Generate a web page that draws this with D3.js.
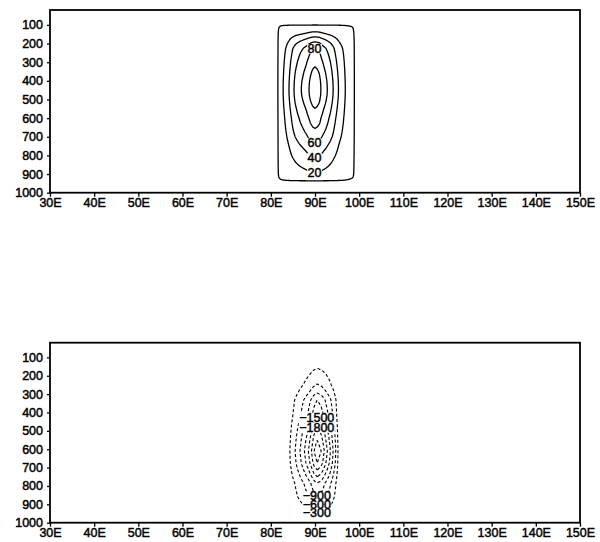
<!DOCTYPE html>
<html><head><meta charset="utf-8">
<script src="https://cdn.jsdelivr.net/npm/d3@7"></script>
<style>body{margin:0;background:#fff}text{font-family:"Liberation Sans",Arial,sans-serif}</style>
</head><body>
<svg id="c" width="600" height="542"></svg>
<script>
// ---- axis data ----
const lonTicks = [30,40,50,60,70,80,90,100,110,120,130,140,150];
const presTicks = [100,200,300,400,500,600,700,800,900,1000];
const presDomain = [20, 1000];

// ---- top panel: positive field (value profile along longitude at peak level, and along pressure at 90E) ----
const topPeak = 112;
const topLonKnots = [80,81.6,82,82.5,83,83.5,84,84.5,85,85.5,86,86.5,87,87.5,88,88.5,89,89.5,90,90.5,91,91.5,92,92.5,93,93.5,94,94.5,95,95.5,96,96.5,97,97.5,98,98.5,98.9,100];
const topLonVals  = [0,0,7,16,23,30,38,47,56,64,70,76,81,86,91,98,105,110,112,110,106,97,90,84,77,70,62,53,45,37,31,25,18,13,9,5,0,0];
const topPresKnots = [20,100,125,150,175,200,225,250,275,300,325,350,375,400,425,450,475,500,525,550,575,600,625,650,675,700,725,750,775,800,825,850,875,900,925,937,1000];
const topPresVals  = [0,0,13,28,49,66,79.5,86,91,96,100,104,107,110,111.5,112,111,108,104,99.5,95,90,86,81,76,70,63,56,50,44,37,31,25,18,4,0,0];
const topLevels = [0.3,20,40,60,80,100];
const topLabelLevels = [80,60,40,20];
const topLabelSides  = ["top","bottom","bottom","bottom"];

// ---- bottom panel: negative field ----
const botPeak = -2300;
const botLonKnots = [80,83.6,84.3,85.5,86.6,87.6,88.5,89.2,89.8,90.5,91.4,92.1,92.8,93.5,94.1,94.7,95.2,96,100];
const botLonVals  = [0,0,-300,-600,-900,-1200,-1500,-1800,-2100,-2300,-2100,-1800,-1500,-1200,-900,-600,-300,0,0];
const botPresKnots = [20,120,160,200,250,294,332,380,425,479,550,610,675,713,750,784,860,904,947,980,1000];
const botPresVals  = [0,0,-300,-450,-620,-900,-1200,-1350,-1500,-1800,-2100,-2300,-2100,-1800,-1500,-1200,-900,-600,-300,-100,0];
const botLevels = [-300,-600,-900,-1200,-1500,-1800,-2100];
const botLabelLevels = [-1500,-1800,-900,-600,-300];
const botLabelSides  = ["top","top","bottom","bottom","bottom"];

const svg = d3.select("#c");
const X0 = 50, X1 = 580;
const x = d3.scaleLinear().domain([30,150]).range([X0,X1]);

function panel(cfg){
  const y = d3.scaleLinear().domain(presDomain).range([cfg.top, cfg.bottom]);
  const g = svg.append("g");
  const hS = d3.scaleLinear().domain(cfg.lonKnots).range(cfg.lonVals).clamp(true);
  const vS = d3.scaleLinear().domain(cfg.presKnots).range(cfg.presVals).clamp(true);
  const sgn = cfg.peak < 0 ? -1 : 1;
  const field = (lon,p) => sgn * hS(lon) * vS(p) / cfg.peak; // magnitude
  const step = 0.5;
  const gx0 = x(78), gx1 = x(102), gy0 = cfg.top, gy1 = cfg.bottom;
  const nx = Math.ceil((gx1-gx0)/step)+1, ny = Math.ceil((gy1-gy0)/step)+1;
  const vals = new Array(nx*ny);
  for(let j=0;j<ny;j++){ const p = y.invert(gy0+j*step);
    for(let i=0;i<nx;i++){ vals[j*nx+i] = field(x.invert(gx0+i*step), p); } }
  const thr = cfg.levels.map(l => Math.abs(l));
  const cs = d3.contours().size([nx,ny]).thresholds(thr)(vals);
  const proj = d3.geoTransform({point(px,py){ this.stream.point(gx0+(px-0.5)*step, gy0+(py-0.5)*step); }});
  const path = d3.geoPath(proj);
  g.selectAll("path.c").data(cs).join("path").attr("class","c")
    .attr("d", path).attr("fill","none").attr("stroke","#000")
    .attr("stroke-width", cfg.dash ? 1.1 : 1.3)
    .attr("stroke-dasharray", cfg.dash ? "3,2.2" : null);
  // labels (mask + text, drawn in order like contour-label masks)
  const lonL = cfg.labelLon;
  cfg.labelLevels.forEach((lv,k) => {
    const target = Math.abs(lv), side = cfg.labelSides[k];
    let ps = d3.range(presDomain[0], presDomain[1], 0.5);
    if(side==="bottom") ps = ps.reverse();
    let pf = null;
    for(const p of ps){ if(field(lonL,p) >= target){ pf = p; break; } }
    if(pf===null) return;
    const cx = x(lonL), cy = y(pf);
    const txt = String(lv).replace("-", "\u2212");
    const r = g.append("rect").attr("fill","#fff");
    const t = g.append("text").attr("x",cx).attr("y",cy).attr("text-anchor","middle")
      .attr("dominant-baseline","central").attr("font-size",12.5).text(txt)
      .attr("stroke","#000").attr("stroke-width",0.45);
    const bb = t.node().getBBox();
    r.attr("x",bb.x-0.5).attr("y",cy-4.8).attr("width",bb.width+1).attr("height",9.6);
  });
  // frame
  g.append("rect").attr("x",X0).attr("y",cfg.top).attr("width",X1-X0).attr("height",cfg.bottom-cfg.top)
    .attr("fill","none").attr("stroke","#000").attr("stroke-width",1.8);
  const ax = g.append("g").attr("transform",`translate(0,${cfg.bottom})`)
    .call(d3.axisBottom(x).tickValues(lonTicks).tickSize(4).tickPadding(1).tickFormat(d=>d+"E"));
  const ay = g.append("g").attr("transform",`translate(${X0},0)`)
    .call(d3.axisLeft(y).tickValues(presTicks).tickSize(3).tickPadding(4).tickFormat(d=>d));
  [ax,ay].forEach(a=>{ a.select(".domain").remove();
    a.selectAll("line").attr("stroke","#000").attr("stroke-width",1.3);
    a.selectAll("text").attr("font-size",12.5).attr("fill","#000").attr("stroke","#000").attr("stroke-width",0.45)
      .style("font-family",'"Liberation Sans",Arial,sans-serif'); });
}

panel({top:10, bottom:192.7, lonKnots:topLonKnots, lonVals:topLonVals, presKnots:topPresKnots, presVals:topPresVals,
  peak:topPeak, levels:topLevels, labelLevels:topLabelLevels, labelSides:topLabelSides, labelLon:89.9, dash:false});
panel({top:342.7, bottom:522.7, lonKnots:botLonKnots, lonVals:botLonVals, presKnots:botPresKnots, presVals:botPresVals,
  peak:botPeak, levels:botLevels, labelLevels:botLabelLevels, labelSides:botLabelSides, labelLon:90.4, dash:true});
</script>
</body></html>
